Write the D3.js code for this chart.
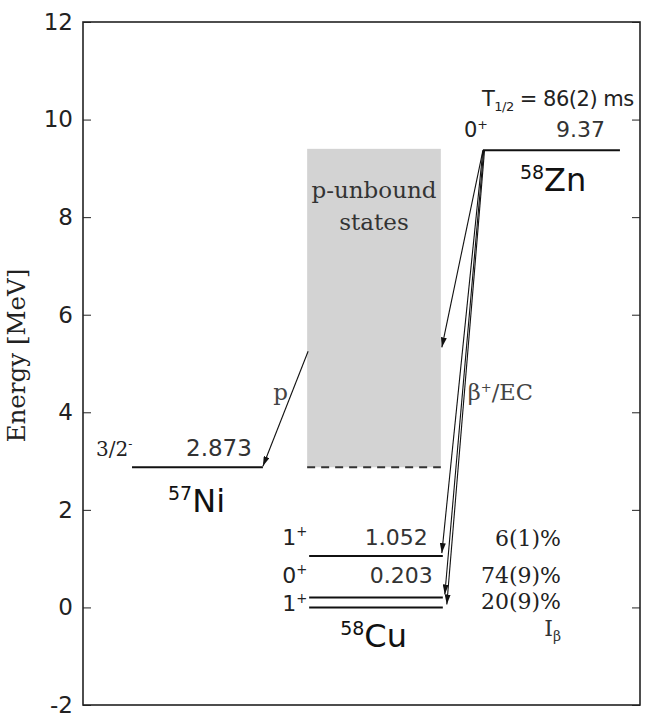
<!DOCTYPE html>
<html>
<head>
<meta charset="utf-8">
<script src="https://cdn.jsdelivr.net/npm/d3@7"></script>
<style>
  body { margin: 0; background: #fff; }
  .sans { font-family: "DejaVu Sans", sans-serif; }
  .serif { font-family: "DejaVu Serif", serif; }
</style>
</head>
<body>
<div class="vis-levels"></div>
<script>
// energies in MeV
const yTicks = [-2, 0, 2, 4, 6, 8, 10, 12];
const znEnergy = 9.37;
const znSpin = ['0', '+'];
const halfLife = '86(2) ms';
const niEnergy = 2.873;
const niSpin = ['3/2', '-'];
const cuEnergies = [1.052, 0.203, 0.0];
const cuEnergyLabels = ['1.052', '0.203', ''];
const cuSpins = [['1', '+'], ['0', '+'], ['1', '+']];
const cuFeedings = ['6(1)%', '74(9)%', '20(9)%'];
const unboundBand = [2.873, 9.4];
const unboundFeedEnergy = 5.33;
const protonStartEnergy = 5.25;

const draw = () => {
    const W = 650, H = 717;
    const margin = { top: 22, right: 10, bottom: 12, left: 83 };
    const width = W - margin.left - margin.right;
    const height = H - margin.top - margin.bottom;

    const svg = d3.select('.vis-levels').append('svg')
        .attr('width', W).attr('height', H)
        .append('g')
        .attr('transform', 'translate(' + margin.left + ',' + margin.top + ')');

    const y = d3.scaleLinear().domain([-2, 12]).range([height, 0]);
    // horizontal layout in percent of the frame width
    const x = d3.scaleLinear().domain([0, 100]).range([0, width]);
    const col = {
        ni: [8.8, 32.3],
        cu: [40.6, 64.6],
        zn: [71.8, 96.4]
    };

    // frame
    svg.append('rect')
        .attr('width', width).attr('height', height)
        .attr('fill', 'none').attr('stroke', '#222').attr('stroke-width', 1.6);

    const yAxis = svg.append('g')
        .call(d3.axisLeft(y).tickValues(yTicks).tickFormat(d => String(d))
            .tickSizeInner(-8).tickSizeOuter(0).tickPadding(10));
    yAxis.select('.domain').remove();
    yAxis.selectAll('text').attr('font-size', 23).attr('fill', '#222').attr('font-family', 'DejaVu Sans');
    yAxis.selectAll('line').attr('stroke', '#222');

    const yAxisR = svg.append('g')
        .attr('transform', 'translate(' + width + ',0)')
        .call(d3.axisRight(y).tickValues(yTicks).tickSizeInner(-8).tickSizeOuter(0).tickFormat(''));
    yAxisR.select('.domain').remove();
    yAxisR.selectAll('line').attr('stroke', '#222');

    svg.append('text')
        .attr('class', 'serif')
        .attr('transform', 'translate(' + (-58) + ',' + (height / 2 - 8) + ') rotate(-90)')
        .attr('text-anchor', 'middle')
        .attr('font-size', 24.5).attr('fill', '#222')
        .text('Energy [MeV]');

    // arrow marker
    svg.append('defs').append('marker')
        .attr('id', 'head')
        .attr('viewBox', '0 0 10 6')
        .attr('refX', 10).attr('refY', 3)
        .attr('markerWidth', 10).attr('markerHeight', 6)
        .attr('markerUnits', 'userSpaceOnUse')
        .attr('orient', 'auto')
        .append('path').attr('d', 'M0,0 L10,3 L0,6 Z').attr('fill', '#111');

    // p-unbound band
    svg.append('rect')
        .attr('x', x(col.cu[0]) - 2)
        .attr('y', y(unboundBand[1]))
        .attr('width', x(col.cu[1]) - x(col.cu[0]))
        .attr('height', y(unboundBand[0]) - y(unboundBand[1]))
        .attr('fill', '#d3d3d3');
    svg.append('line')
        .attr('x1', x(col.cu[0]) - 2).attr('x2', x(col.cu[1]) - 2)
        .attr('y1', y(unboundBand[0])).attr('y2', y(unboundBand[0]))
        .attr('stroke', '#333').attr('stroke-width', 2).attr('stroke-dasharray', '8,6');
    const bandText = svg.append('text')
        .attr('class', 'serif').attr('text-anchor', 'middle')
        .attr('font-size', 23).attr('fill', '#333');
    bandText.append('tspan').attr('x', (x(col.cu[0]) + x(col.cu[1])) / 2 - 2).attr('y', 176).text('p-unbound');
    bandText.append('tspan').attr('x', (x(col.cu[0]) + x(col.cu[1])) / 2 - 2).attr('y', 208).text('states');

    // levels
    const level = (x0, x1, e) => svg.append('line')
        .attr('x1', x(x0)).attr('x2', x(x1))
        .attr('y1', y(e)).attr('y2', y(e))
        .attr('stroke', '#111').attr('stroke-width', 2);

    const supText = (base, sup, xPos, yPos, size, cls) => {
        const t = svg.append('text').attr('class', cls)
            .attr('x', xPos).attr('y', yPos)
            .attr('font-size', size).attr('fill', '#222');
        t.append('tspan').text(base);
        t.append('tspan').attr('dy', -size * 0.4).attr('font-size', size * 0.6).text(sup);
        return t;
    };

    const nucleus = (mass, sym, xPos, yPos) => {
        const t = svg.append('text').attr('class', 'sans')
            .attr('x', xPos).attr('y', yPos).attr('fill', '#111');
        t.append('tspan').attr('font-size', 19).attr('dy', -12).text(mass);
        t.append('tspan').attr('font-size', 32).attr('dy', 12).text(sym);
    };

    // 58Zn
    level(col.zn[0], col.zn[1], znEnergy);
    supText(znSpin[0], znSpin[1], x(col.zn[0]) - 19, y(znEnergy) - 13, 21, 'sans');
    svg.append('text').attr('class', 'sans').attr('text-anchor', 'end')
        .attr('x', x(col.zn[1]) - 15).attr('y', y(znEnergy) - 13)
        .attr('font-size', 22).attr('fill', '#333').text(znEnergy.toFixed(2));
    const hl = svg.append('text').attr('class', 'sans')
        .attr('x', x(col.zn[0]) - 1).attr('y', y(znEnergy) - 44)
        .attr('font-size', 21).attr('fill', '#222').attr('letter-spacing', -0.5);
    hl.append('tspan').text('T');
    hl.append('tspan').attr('dy', 5).attr('font-size', 13).text('1/2');
    hl.append('tspan').attr('dy', -5).text(' = ' + halfLife);
    nucleus('58', 'Zn', x(col.zn[0]) + 37, y(znEnergy) + 41);

    // 57Ni
    level(col.ni[0], col.ni[1], niEnergy);
    supText(niSpin[0], niSpin[1], x(col.ni[0]) - 36, y(niEnergy) - 11, 20, 'serif');
    svg.append('text').attr('class', 'sans').attr('text-anchor', 'end')
        .attr('x', x(col.ni[1]) - 11).attr('y', y(niEnergy) - 11)
        .attr('font-size', 23).attr('fill', '#333').text(niEnergy.toFixed(3));
    nucleus('57', 'Ni', x(col.ni[0]) + 36, y(niEnergy) + 45);

    // 58Cu
    const spinDy = [-11, -15, 4];
    const feedDy = [-10, -15, 2];
    cuEnergies.forEach((e, i) => {
        level(col.cu[0], col.cu[1], e);
        supText(cuSpins[i][0], cuSpins[i][1], x(col.cu[0]) - 27, y(e) + spinDy[i], 22, 'sans');
        if (cuEnergyLabels[i]) {
            svg.append('text').attr('class', 'sans').attr('text-anchor', 'end')
                .attr('x', x(col.cu[1]) - 15 + (i === 1 ? 5 : 0)).attr('y', y(e) + spinDy[i])
                .attr('font-size', 22).attr('fill', '#333').text(cuEnergyLabels[i]);
        }
        svg.append('text').attr('class', 'serif').attr('text-anchor', 'end')
            .attr('x', 478).attr('y', y(e) + feedDy[i])
            .attr('font-size', 22).attr('fill', '#222').text(cuFeedings[i]);
    });
    nucleus('58', 'Cu', x(col.cu[0]) + 31, y(0) + 40);
    const ib = svg.append('text').attr('class', 'serif').attr('text-anchor', 'end')
        .attr('x', 478).attr('y', y(0) + 29).attr('font-size', 22).attr('fill', '#333');
    ib.append('tspan').text('I');
    ib.append('tspan').attr('dy', 5).attr('font-size', 14).text('β');

    // beta arrows from 58Zn
    const sx = x(col.zn[0]), sy = y(znEnergy);
    const arrow = (x1, y1, x2, y2) => svg.append('line')
        .attr('x1', x1).attr('y1', y1).attr('x2', x2).attr('y2', y2)
        .attr('stroke', '#111').attr('stroke-width', 1.1)
        .attr('marker-end', 'url(#head)');
    arrow(sx, sy, x(col.cu[1]) - 1, y(unboundFeedEnergy));
    const tipShift = [-1, 2, 4];
    cuEnergies.forEach((e, i) => arrow(sx + i * 0.8, sy, x(col.cu[1]) + tipShift[i], y(e) - 3));

    // proton emission
    arrow(x(col.cu[0]) - 1, y(protonStartEnergy), x(col.ni[1]), y(niEnergy) - 1);
    svg.append('text').attr('class', 'serif')
        .attr('x', x(col.cu[0]) - 36).attr('y', 378)
        .attr('font-size', 23).attr('fill', '#444').text('p');
    const bec = svg.append('text').attr('class', 'serif')
        .attr('x', x(col.cu[1]) + 25).attr('y', 378)
        .attr('font-size', 22.5).attr('fill', '#444');
    bec.append('tspan').text('β');
    bec.append('tspan').attr('dy', -8).attr('font-size', 13).text('+');
    bec.append('tspan').attr('dy', 8).text('/EC');
};

draw();
</script>
</body>
</html>
